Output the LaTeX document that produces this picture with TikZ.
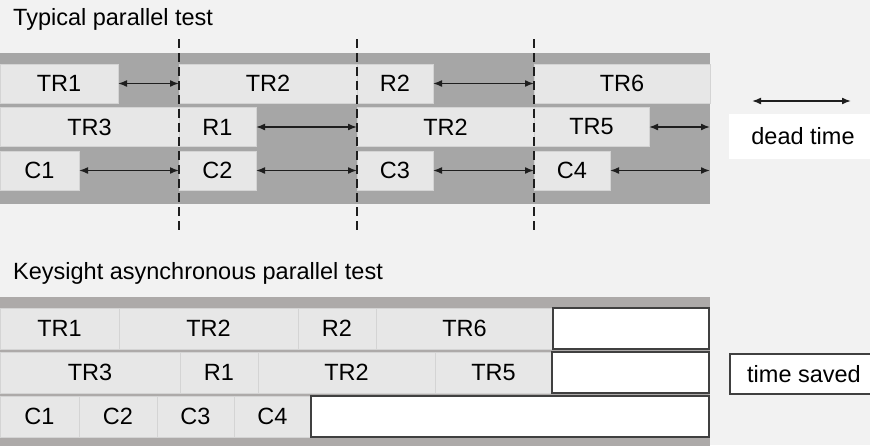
\documentclass[tikz,border=0pt]{standalone}
\usepackage{fontspec}
\setmainfont{Liberation Sans}
\usetikzlibrary{arrows.meta,positioning,calc}
\definecolor{paper}{HTML}{F2F2F2}
\definecolor{band}{HTML}{A6A6A6}
\definecolor{bandwarm}{HTML}{ADAAA9}
\definecolor{cellfill}{HTML}{E7E7E7}
\definecolor{celledge}{HTML}{D4D4D4}
\definecolor{ink}{HTML}{1E1E1E}
\definecolor{frame}{HTML}{404040}

\tikzset{
  cell/.style={fill=cellfill,draw=celledge,line width=0.8pt,inner sep=0pt,outer sep=0pt,minimum height=39pt},
  saved/.style={cell,fill=white,draw=frame,line width=1.4pt},
  dead/.style={<->,draw=ink,line width=1.6pt},
  cut/.style={draw=ink,line width=1.8pt,dash pattern=on 9pt off 5pt},
  legend/.style={inner sep=0pt,outer sep=0pt,minimum height=#1}
}

\begin{document}
\begin{tikzpicture}[x=1pt,y=-1pt,>={Latex[length=9pt,width=7pt]},font=\fontsize{23.5}{28}\selectfont]
    \useasboundingbox[fill=paper] (0,0) rectangle (870,445);

    % typical parallel test
    \node[anchor=base west,inner sep=0pt] (title1) at (13,25) {Typical parallel test};
    \fill[band] (0,53) rectangle (710,204);
    \foreach \nm/\a/\b/\y/\lab in {ta1/0/118/83.5/TR1,ta2/179/357/83.5/TR2,ta3/357/433/83.5/R2,ta4/534/710/83.5/TR6,
        tb1/0/179/127/TR3,tb2/179/256/127/R1,tb3/357/534/127/TR2,tb4/534/649/127/TR5,
        tc1/0/79/170.5/C1,tc2/179/256/170.5/C2,tc3/357/433/170.5/C3,tc4/534/610/170.5/C4}{
      \node[cell,minimum width={(\b-\a)*1pt}] (\nm) at ({(\a+\b)/2},\y) {\lab};}
    \foreach \x/\nm in {179/d1,357/d2,534/d3,710/d4}{
      \coordinate (\nm) at (\x,0);}
    \foreach \s/\t in {ta1/d1,ta3/d3,tb2/d2,tb4/d4,tc1/d1,tc2/d2,tc3/d3,tc4/d4}{
      \draw[dead] (\s.east) -- (\s.east -| \t);}
    \foreach \nm in {d1,d2,d3}{
      \coordinate (\nm top) at ($(\nm)+(0,39)$);
      \coordinate (\nm bot) at ($(\nm)+(0,230)$);
      \draw[cut] (\nm top) -- (\nm bot);}

    % legend
    \coordinate (la) at (752,101);
    \coordinate (lb) at (851,101);
    \draw[dead] (la) -- (lb);
    \node[legend=45pt,fill=white,minimum width=148pt] (deadtime) at (803,136.5) {dead time};

    % keysight asynchronous parallel test
    \node[anchor=base west,inner sep=0pt] (title2) at (13,279) {Keysight asynchronous parallel test};
    \fill[bandwarm] (0,297) rectangle (710,450);
    \begin{scope}[cell/.append style={minimum height=41pt}]
    \foreach \nm/\a/\b/\y/\lab in {ka1/0/119/328.5/TR1,ka2/119/298/328.5/TR2,ka3/298/376/328.5/R2,ka4/376/553/328.5/TR6,
        kb1/0/180/372.5/TR3,kb2/180/258/372.5/R1,kb3/258/435/372.5/TR2,kb4/435/552/372.5/TR5,
        kc1/0/79/416.5/C1,kc2/79/157/416.5/C2,kc3/157/234/416.5/C3,kc4/234/311/416.5/C4}{
      \node[cell,minimum width={(\b-\a)*1pt}] (\nm) at ({(\a+\b)/2},\y) {\lab};}
    \foreach \nm/\a/\y in {ks1/553/328.5,ks2/552/372.5,ks3/311/416.5}{
      \node[saved,minimum width={(709-\a)*1pt}] (\nm) at ({(\a+709)/2},\y) {};}
    \end{scope}
    \node[legend=40pt,fill=white,draw=frame,line width=1.4pt,minimum width=148pt] (timesaved) at (804,374) {time saved};
  \end{tikzpicture}
\end{document}
